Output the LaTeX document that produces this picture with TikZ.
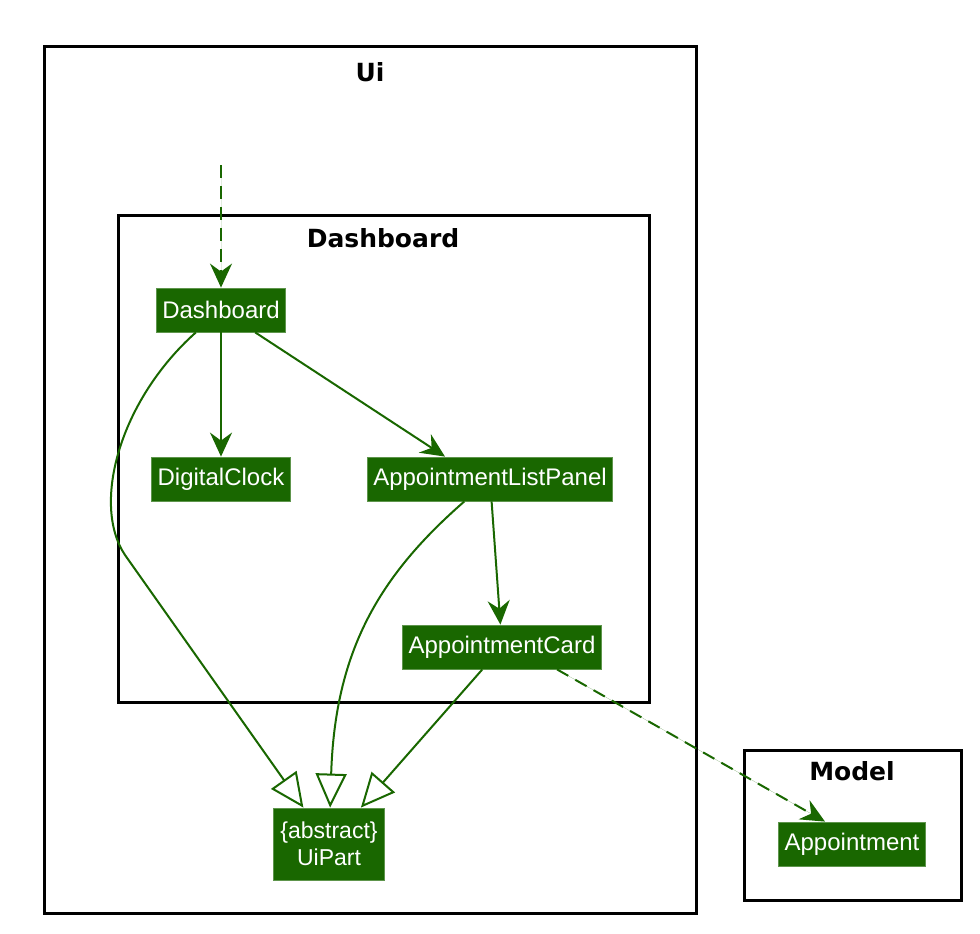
\documentclass[tikz,border=0pt]{standalone}
\usepackage{fontspec}
\setmainfont{Liberation Sans}
\newfontfamily\titlefont{DejaVu Sans}
\usepackage{tikz}
\usetikzlibrary{arrows.meta}
\usetikzlibrary{calc}
\usetikzlibrary{positioning}
\definecolor{umlgreen}{RGB}{25,103,0}

\begin{document}
\begin{tikzpicture}[
			x=1pt, y=-1pt,
			cls/.style={rectangle, fill=umlgreen, draw=umlgreen!70!white, line width=0.8pt, text=white, inner xsep=6pt, minimum height=44pt, align=center, font=\fontsize{24}{28}\selectfont},
			pkg/.style={draw=black, line width=3pt},
			pkgtitle/.style={font=\titlefont\bfseries\fontsize{25}{28}\selectfont},
			uses/.style={-{Stealth[length=24pt, width=22pt, inset=8pt]}, draw=umlgreen, fill=umlgreen, line width=2pt},
			dep/.style={uses, dash pattern=on 13pt off 8pt},
			extends/.style={-{Triangle[open, length=34pt, width=31pt, fill=white]}, draw=umlgreen, line width=2pt}
		]

		\useasboundingbox (0,0) rectangle (980,934);

		% --- Packages ---
		\draw[pkg] (44,47) rectangle (696,913);
		\node[pkgtitle] (uiTitle) at (370,72) {Ui};
		\draw[pkg] (118,215) rectangle (649,702);
		\node[pkgtitle] (dashTitle) at (383,238) {Dashboard};
		\draw[pkg] (744,750) rectangle (961,900);
		\node[pkgtitle] (modelTitle) at (852,771) {Model};

		% --- Classes ---
		\node[cls] (dashboard) at (221,310) {Dashboard};
		\node[cls] (clock) at (221,479) {DigitalClock};
		\node[cls] (panel) at (490,479) {AppointmentListPanel};
		\node[cls] (card) at (502,647) {AppointmentCard};
		\node[cls, minimum height=72pt, minimum width=111pt, font=\fontsize{23}{27}\selectfont] (uipart) at (329,844) {\{abstract\}\\UiPart};
		\node[cls] (appt) at (852,844) {Appointment};

		\coordinate (entry) at (221,165);

		% --- Associations ---
		\draw[dep] (entry) -- (dashboard);
		\draw[uses] (dashboard) -- (clock);
		\draw[uses] (dashboard) -- ([xshift=-45]panel.north);
		\draw[uses] (panel) -- (card);
		\draw[dep] ([xshift=55]card.south) -- ([xshift=-27]appt.north);

		% --- Inheritance ---
		\draw[extends] (dashboard) .. controls (120,400) and (91,504) .. (125,555) -- (uipart);
		\draw[extends] (panel) .. controls (380,575) and (335,650) .. (uipart);
		\draw[extends] (card) -- (uipart);

	\end{tikzpicture}
\end{document}
